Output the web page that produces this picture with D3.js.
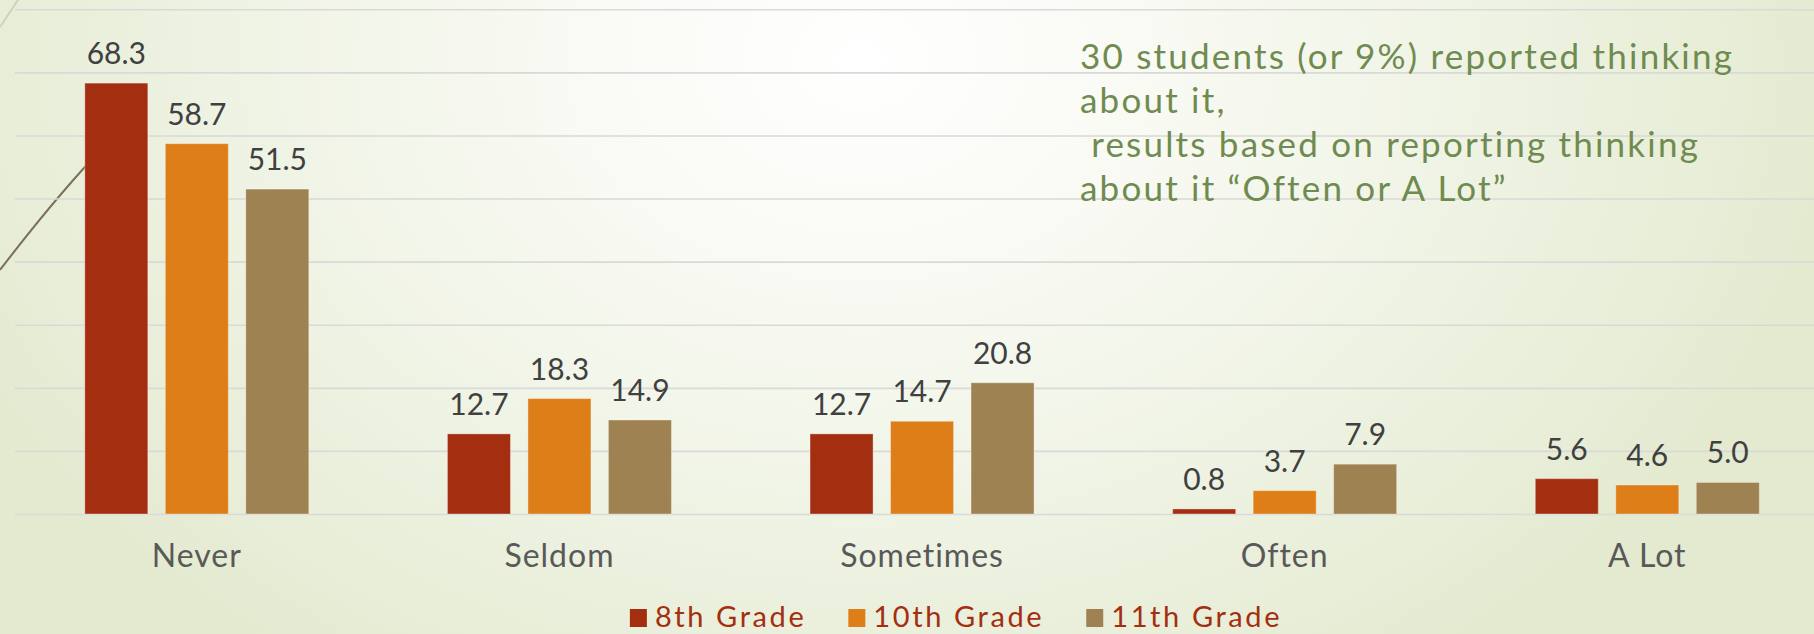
<!DOCTYPE html>
<html>
<head>
<meta charset="utf-8">
<script src="https://cdn.jsdelivr.net/npm/d3@7/dist/d3.min.js"></script>
<style>
  html, body { margin: 0; padding: 0; overflow: hidden; }
  svg { display: block; }
  text { font-family: Lato, "Open Sans", sans-serif; white-space: pre; }
</style>
</head>
<body>
<svg id="chart" width="1814" height="634"></svg>
<script>
// ---- data ----
const categories = ["Never", "Seldom", "Sometimes", "Often", "A Lot"];
const seriesNames = ["8th Grade", "10th Grade", "11th Grade"];
const grade8 = [68.3, 12.7, 12.7, 0.8, 5.6];
const grade10 = [58.7, 18.3, 14.7, 3.7, 4.6];
const grade11 = [51.5, 14.9, 20.8, 7.9, 5.0];
const yTicks = [0, 10, 20, 30, 40, 50, 60, 70, 80];
const annotationLines = [
  "30 students (or 9%) reported thinking",
  "about it,",
  " results based on reporting thinking",
  "about it \u201COften or A Lot\u201D"
];

const seriesValues = [grade8, grade10, grade11];
const colors = ["#A42E10", "#DE7E19", "#9E8251"];

const W = 1814, H = 634;
const svg = d3.select("#chart");

// background
const defs = svg.append("defs");
const rg = defs.append("radialGradient").attr("id", "bg")
  .attr("gradientUnits", "userSpaceOnUse")
  .attr("cx", 860).attr("cy", 60).attr("r", 1000)
  .attr("gradientTransform", "translate(860,60) scale(1,0.75) translate(-860,-60)");
rg.append("stop").attr("offset", "0").attr("stop-color", "#FFFFFF");
rg.append("stop").attr("offset", "0.35").attr("stop-color", "#F7F9F1");
rg.append("stop").attr("offset", "0.75").attr("stop-color", "#EBF0DD");
rg.append("stop").attr("offset", "1").attr("stop-color", "#E3EACF");
svg.append("rect").attr("width", W).attr("height", H).attr("fill", "url(#bg)");

// decorative theme lines
svg.append("path").attr("d", "M0,27 L18,0").attr("stroke", "#CDD1BE").attr("stroke-width", 2).attr("fill", "none");
svg.append("path").attr("d", "M0,270 Q58,194 110,140").attr("stroke", "#7B7057").attr("stroke-width", 2).attr("fill", "none");

// scales
const y = d3.scaleLinear().domain([0, 80]).range([514, 9.3]);
const x0 = d3.scaleBand().domain(categories).range([15.5, 1828.6]).padding(0);
const x1 = d3.scaleBand().domain(seriesNames).range([69.3, x0.bandwidth() - 69.3]).paddingInner(0.217).paddingOuter(0);

// gridlines via axis
const gridAxis = d3.axisLeft(y).tickValues(yTicks).tickSize(-(W - 15)).tickFormat("");
const g = svg.append("g").attr("transform", "translate(15,0)").call(gridAxis);
g.select(".domain").remove();
g.selectAll(".tick line").attr("stroke", "#D9D9D9").attr("stroke-width", 1.6);

// bars
const groups = svg.append("g").selectAll("g.cat")
  .data(categories).join("g")
  .attr("class", "cat")
  .attr("transform", d => `translate(${x0(d)},0)`);

groups.each(function(cat, ci) {
  const gg = d3.select(this);
  const rows = seriesNames.map((s, si) => ({ s, si, v: seriesValues[si][ci] }));
  gg.selectAll("rect").data(rows).join("rect")
    .attr("x", d => x1(d.s))
    .attr("y", d => y(d.v))
    .attr("width", x1.bandwidth())
    .attr("height", d => y(0) - y(d.v))
    .attr("fill", d => colors[d.si])
    .attr("stroke", "rgba(255,255,255,0.35)")
    .attr("stroke-width", 1);
  gg.selectAll("text.val").data(rows).join("text")
    .attr("class", "val")
    .attr("x", d => x1(d.s) + x1.bandwidth() / 2)
    .attr("y", d => y(d.v) - 19)
    .attr("text-anchor", "middle")
    .attr("font-size", 30)
    .attr("fill", "#404040")
    .text(d => d3.format(".1f")(d.v));
});

// category axis labels
const xAxis = d3.axisBottom(x0).tickSize(0).tickPadding(0);
const xg = svg.append("g").attr("transform", "translate(0,514)").call(xAxis);
xg.select(".domain").remove();
xg.selectAll(".tick text")
  .attr("dy", null)
  .attr("y", 53)
  .attr("font-size", 32)
  .attr("font-family", "Lato, sans-serif")
  .attr("fill", "#595959")
  .attr("letter-spacing", 1);

// annotation
const ann = svg.append("text").attr("font-size", 35).attr("fill", "#6F8B4F").attr("letter-spacing", 2.2);
annotationLines.forEach((t, i) => {
  ann.append("tspan").attr("x", 1080).attr("y", 69.3 + i * 44).text(t);
});

// legend
const legend = svg.append("g");
const items = legend.selectAll("g").data(seriesNames).join("g");
items.append("rect").attr("width", 17).attr("height", 18).attr("y", 609).attr("fill", (d, i) => colors[i]);
items.append("text").attr("x", 25).attr("y", 627).attr("font-size", 29)
  .attr("letter-spacing", 2.6)
  .attr("fill", "#A42E10").text(d => d);
const widths = [];
items.each(function() {
  const w = 25 + d3.select(this).select("text").node().getComputedTextLength();
  widths.push(w);
});
const gap = 42;
const total = d3.sum(widths) + gap * (widths.length - 1);
let start = 956 - total / 2;
items.attr("transform", (d, i) => {
  const tx = start;
  start += widths[i] + gap;
  return `translate(${tx},0)`;
});
</script>
</body>
</html>
